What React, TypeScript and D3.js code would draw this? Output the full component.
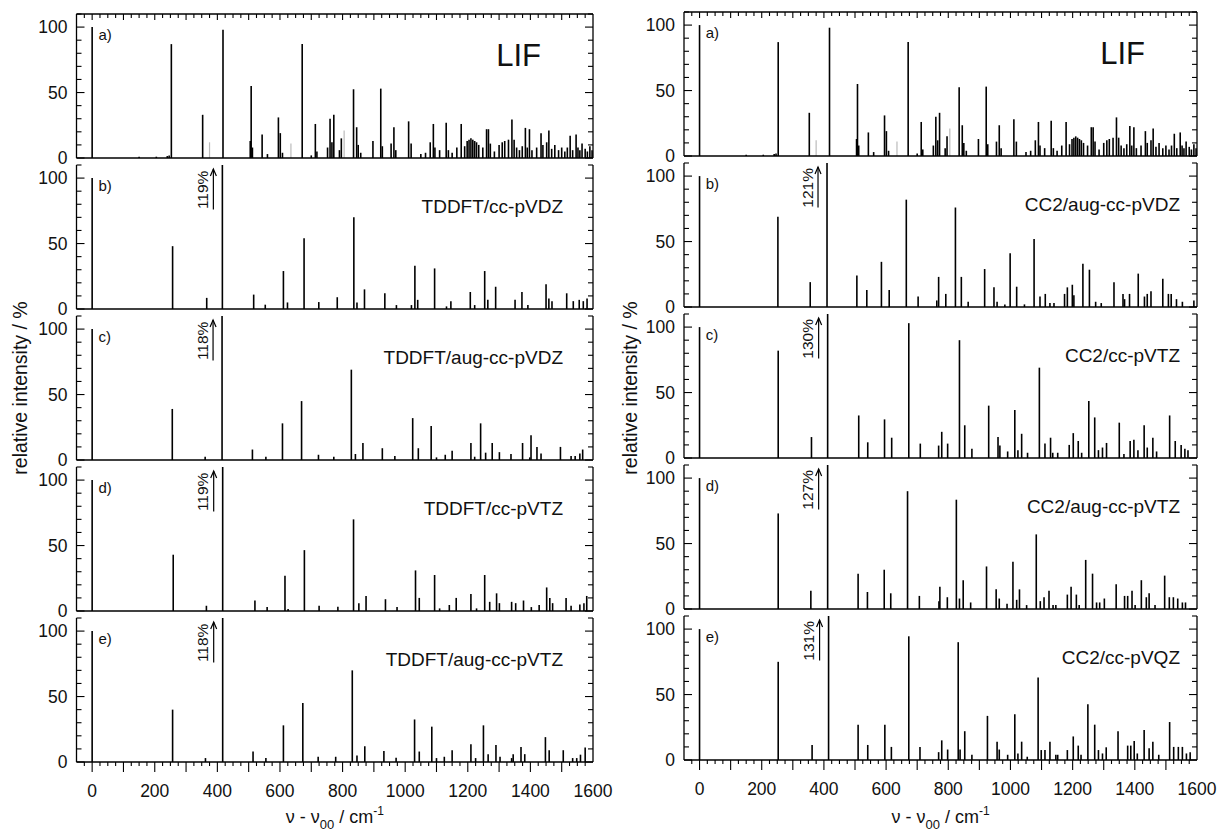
import React from 'react';
import * as d3 from 'd3';

// stick spectra: [wavenumber offset / cm-1, relative intensity / %]
const lif: [number, number][] = [
  [0, 100], [150, 1], [205, 1], [240, 1.5], [246, 2], [253, 87], [353, 33], [418, 98],
  [505, 13], [508, 55], [512, 8], [543, 18], [560, 3], [595, 31], [601, 19], [608, 4],
  [671, 87], [700, 2], [713, 26], [718, 5], [752, 8], [760, 30], [766, 12], [772, 33],
  [790, 6], [796, 15], [835, 52.5], [845, 23.5], [850, 10], [858, 4], [897, 13], [922, 53],
  [927, 9], [955, 11], [964, 23.5], [970, 6], [1011, 28], [1019, 11], [1050, 3], [1065, 4],
  [1080, 12], [1090, 26], [1095, 8], [1110, 6], [1131, 27], [1138, 6], [1150, 4], [1165, 8],
  [1179, 26], [1190, 9], [1198, 13], [1204, 14], [1210, 15], [1216, 14], [1222, 13], [1228, 12],
  [1235, 10], [1248, 8], [1260, 22], [1266, 22], [1272, 11], [1285, 5], [1300, 10], [1310, 12],
  [1318, 13], [1330, 14], [1341, 29.5], [1348, 14], [1356, 8], [1365, 6], [1374, 9], [1384, 23],
  [1390, 8], [1397, 22], [1405, 6], [1420, 8], [1434, 19], [1440, 10], [1452, 12], [1459, 21],
  [1468, 7], [1478, 10], [1490, 6], [1500, 8], [1510, 5], [1518, 8], [1527, 17], [1535, 6],
  [1546, 18], [1552, 8], [1558, 6], [1565, 11], [1575, 7], [1582, 5], [1590, 9], [1597, 6],
];
const lifGrey: [number, number][] = [[375, 12], [635, 11], [805, 21]];

const tddftVDZ: [number, number][] = [
  [0, 100], [257, 48], [366, 8.5], [416, 119], [516, 11], [553, 3.3], [611, 29], [624, 5],
  [677, 54], [724, 5.3], [783, 9], [836, 70], [846, 5], [870, 15], [935, 12], [972, 3],
  [1020, 3], [1031, 33], [1040, 7], [1094, 31], [1132, 2], [1146, 6], [1208, 13], [1222, 3],
  [1254, 29], [1264, 7], [1289, 17], [1351, 7], [1373, 13], [1392, 3], [1450, 19], [1459, 8],
  [1469, 6], [1516, 12], [1537, 6], [1556, 7], [1569, 6], [1581, 8],
];
const tddftAugVDZ: [number, number][] = [
  [0, 100], [256, 39], [361, 2.5], [415, 118], [512, 8], [555, 2.5], [608, 28], [669, 45],
  [723, 4], [772, 2.5], [828, 69], [841, 4.6], [865, 13], [927, 9], [967, 3], [1024, 32],
  [1042, 9], [1083, 26], [1100, 2], [1128, 4], [1150, 7], [1210, 13], [1222, 2.5], [1241, 28],
  [1257, 5.6], [1278, 13], [1301, 6], [1338, 4.6], [1375, 13], [1398, 2], [1402, 19], [1421, 10],
  [1434, 5], [1496, 10], [1530, 3], [1543, 3], [1558, 5], [1567, 8],
];
const tddftVTZ: [number, number][] = [
  [0, 100], [259, 43], [365, 4], [417, 119], [520, 8], [559, 3], [616, 27], [626, 1.5],
  [678, 46.5], [725, 4], [785, 3.3], [835, 70], [852, 6], [875, 11.5], [937, 9], [974, 3],
  [1033, 31], [1045, 10], [1094, 27.5], [1110, 2], [1141, 4.6], [1163, 10], [1210, 13], [1228, 2],
  [1254, 27.5], [1270, 7], [1292, 13.5], [1301, 6], [1340, 7], [1353, 6], [1378, 8], [1403, 3],
  [1428, 4.6], [1452, 18], [1462, 10], [1471, 6], [1514, 10], [1530, 4], [1558, 5], [1571, 6],
  [1580, 11.5],
];
const tddftAugVTZ: [number, number][] = [
  [0, 100], [257, 40], [362, 3], [417, 118], [514, 8], [555, 3], [611, 28], [673, 45],
  [722, 4], [778, 4], [831, 70], [846, 5], [871, 12], [932, 8.4], [971, 3.3], [1030, 32.5],
  [1045, 8], [1085, 27], [1100, 3], [1125, 4], [1150, 9], [1210, 13.5], [1225, 3], [1250, 28],
  [1265, 6], [1290, 13], [1303, 4], [1340, 3], [1345, 6], [1370, 11.5], [1382, 6], [1448, 19],
  [1460, 9], [1505, 9], [1535, 3], [1548, 3], [1560, 5.6], [1575, 11],
];

const cc2AugVDZ: [number, number][] = [
  [0, 100], [252, 69], [356, 19], [410, 121], [506, 24], [538, 13], [585, 34.5], [610, 13],
  [665, 82], [703, 8], [763, 5], [769, 23], [792, 10], [823, 76], [842, 23], [864, 4],
  [917, 29], [947, 15], [957, 4], [982, 2], [999, 41], [1020, 15.5], [1045, 2], [1076, 52],
  [1095, 8], [1112, 10], [1127, 3], [1140, 3], [1174, 10], [1183, 15], [1199, 17], [1204, 9],
  [1233, 33], [1254, 28.5], [1274, 4], [1292, 3], [1333, 19], [1362, 10], [1367, 6], [1383, 10],
  [1411, 25.5], [1431, 8], [1440, 10], [1452, 12], [1490, 21.5], [1508, 10], [1517, 10], [1534, 6],
  [1553, 4], [1590, 5],
];
const cc2VTZ: [number, number][] = [
  [0, 100], [253, 82], [360, 16], [412, 130], [512, 32.5], [541, 12], [595, 29.5], [618, 15.5],
  [673, 103], [710, 11], [769, 9.5], [779, 20], [798, 11], [836, 90], [853, 25], [876, 7],
  [930, 40], [960, 16], [966, 9.5], [991, 5], [1014, 36.7], [1024, 6], [1036, 18.5], [1055, 4],
  [1093, 69], [1111, 11], [1129, 15.5], [1136, 4], [1152, 4], [1189, 10], [1202, 19], [1218, 13],
  [1229, 4], [1252, 43.5], [1271, 31], [1283, 6], [1296, 8], [1309, 11.5], [1350, 27], [1365, 3],
  [1385, 13], [1397, 14], [1410, 6], [1430, 25], [1440, 8], [1458, 15.5], [1470, 5], [1512, 32.5],
  [1530, 13], [1549, 10], [1561, 7], [1571, 6],
];
const cc2AugVTZ: [number, number][] = [
  [0, 100], [253, 73], [358, 14], [412, 127], [510, 27], [540, 13], [594, 30], [615, 12],
  [669, 90], [707, 10], [770, 6], [773, 17], [797, 9], [826, 83.5], [836, 8], [848, 22],
  [872, 5], [923, 32.5], [954, 15], [964, 8], [989, 4], [1008, 36], [1020, 7], [1029, 15],
  [1052, 3], [1083, 57], [1096, 6], [1108, 9], [1124, 14], [1137, 3], [1146, 3], [1183, 11],
  [1195, 17], [1212, 11], [1221, 3], [1242, 37.5], [1264, 27], [1277, 5], [1287, 5], [1302, 8],
  [1340, 19], [1367, 10], [1377, 10], [1391, 14], [1401, 3], [1421, 22], [1437, 9], [1446, 12],
  [1465, 3], [1496, 25.5], [1511, 9], [1524, 9], [1538, 8], [1553, 5], [1563, 5],
];
const cc2VQZ: [number, number][] = [
  [0, 100], [253, 75], [362, 11.5], [415, 131], [510, 27], [541, 11.5], [596, 27], [617, 10],
  [673, 94.5], [709, 10], [769, 6], [779, 15], [798, 8], [832, 90], [838, 8], [853, 22],
  [876, 4], [926, 33.7], [957, 14], [964, 8], [991, 4], [1014, 35], [1024, 5], [1036, 14],
  [1054, 2.5], [1089, 63], [1099, 7.6], [1111, 7.6], [1127, 14], [1146, 4], [1152, 4], [1183, 7.6],
  [1202, 18], [1218, 11], [1227, 4], [1249, 42.5], [1271, 27], [1283, 7.6], [1296, 5], [1308, 9.7],
  [1346, 22], [1377, 11], [1387, 11], [1398, 14.5], [1408, 5], [1430, 23], [1446, 9], [1458, 14],
  [1477, 4], [1512, 29], [1525, 10], [1540, 10], [1553, 10], [1566, 5], [1578, 6],
];

const letters = ['a)', 'b)', 'c)', 'd)', 'e)'];
const leftLabels = ['LIF', 'TDDFT/cc-pVDZ', 'TDDFT/aug-cc-pVDZ', 'TDDFT/cc-pVTZ', 'TDDFT/aug-cc-pVTZ'];
const rightLabels = ['LIF', 'CC2/aug-cc-pVDZ', 'CC2/cc-pVTZ', 'CC2/aug-cc-pVTZ', 'CC2/cc-pVQZ'];
const leftOver = ['', '119%', '118%', '119%', '118%'];
const rightOver = ['', '121%', '130%', '127%', '131%'];
const leftSpectra = [lif, tddftVDZ, tddftAugVDZ, tddftVTZ, tddftAugVTZ];
const rightSpectra = [lif, cc2AugVDZ, cc2VTZ, cc2AugVTZ, cc2VQZ];
const xTickLabels = [0, 200, 400, 600, 800, 1000, 1200, 1400, 1600];
const yTickLabels = [0, 50, 100];

const FONT = '"Liberation Sans", Arial, Helvetica, sans-serif';
const PANEL_H = 144;
const PANEL_STEP = 151;

type Col = {
  x0: number; x1: number; zero0: number; labelEnd: number; titleX: number;
  labels: string[]; over: string[]; spectra: [number, number][][];
};

const cols: Col[] = [
  { x0: 76.5, x1: 593, zero0: 158, labelEnd: 30, titleX: 20, labels: leftLabels, over: leftOver, spectra: leftSpectra },
  { x0: 684, x1: 1197, zero0: 156, labelEnd: 17, titleX: 630, labels: rightLabels, over: rightOver, spectra: rightSpectra },
];

function Panel({ col, i }: { col: Col; i: number }) {
  const zero = col.zero0 + PANEL_STEP * i;
  const x = d3.scaleLinear().domain([-50, 1600]).range([col.x0, col.x1]);
  const y = d3.scaleLinear().domain([0, 110]).range([zero, zero - PANEL_H]).clamp(true);
  const top = y(110);
  const sticks = col.spectra[i];
  const xTicks = d3.range(-25, 1600, 25);
  const yTicks = d3.range(0, 111, 10);
  const big = sticks.find(d => d[1] > 110);
  const label = col.labels[i];
  const isLif = label === 'LIF';

  return (
    <g>
      {isLif && lifGrey.map((d, k) => (
        <line key={'g' + k} x1={x(d[0])} x2={x(d[0])} y1={y(0)} y2={y(d[1])} stroke="#bbb" strokeWidth={1.2} />
      ))}
      {sticks.map((d, k) => (
        <line key={k} x1={x(d[0])} x2={x(d[0])} y1={y(0)} y2={y(d[1])} stroke="#000" strokeWidth={1.6} />
      ))}
      {/* frame */}
      <line x1={col.x0} x2={col.x0} y1={zero} y2={top} stroke="#000" strokeWidth={1.3} />
      <line x1={col.x1} x2={col.x1} y1={zero} y2={top} stroke="#000" strokeWidth={1.3} />
      <line x1={col.x0} x2={col.x1} y1={zero} y2={zero} stroke="#000" strokeWidth={1.4} />
      {i === 0 && <line x1={col.x0} x2={col.x1} y1={top} y2={top} stroke="#000" strokeWidth={1.3} />}
      {yTicks.map(t => {
        const len = t % 50 === 0 ? 8 : 5;
        return (
          <g key={'yt' + t}>
            <line x1={col.x0} x2={col.x0 + len} y1={y(t)} y2={y(t)} stroke="#000" strokeWidth={1.1} />
            <line x1={col.x1} x2={col.x1 - len} y1={y(t)} y2={y(t)} stroke="#000" strokeWidth={1.1} />
          </g>
        );
      })}
      {yTickLabels.map(t => (
        <text key={'yl' + t} x={col.x0 - 9} y={y(t)} dy="0.36em" textAnchor="end" fontSize={17.5} fontFamily={FONT} fill="#111">{t}</text>
      ))}
      {i === 0 && xTicks.map(t => (
        <line key={'tt' + t} x1={x(t)} x2={x(t)} y1={top} y2={top + (t % 100 === 0 ? 6 : 4)} stroke="#000" strokeWidth={1.1} />
      ))}
      {i === 4 && xTicks.map(t => (
        <line key={'bt' + t} x1={x(t)} x2={x(t)} y1={zero} y2={zero + (t % 100 === 0 ? 10 : 4)} stroke="#000" strokeWidth={1.1} />
      ))}
      {i === 4 && xTickLabels.map(t => (
        <text key={'xl' + t} x={x(t)} y={zero + 35} textAnchor="middle" fontSize={17.5} fontFamily={FONT} fill="#111">{t}</text>
      ))}
      <text x={x(20)} y={top + 26} fontSize={15} fontFamily={FONT} fill="#111">{letters[i]}</text>
      <text x={col.x1 - (isLif ? 52 : col.labelEnd)} y={isLif ? y(70.5) : y(73)} textAnchor="end"
        fontSize={isLif ? 31 : 19} fontFamily={FONT} fill="#111">{label}</text>
      {big && col.over[i] && (() => {
        const xa = x(big[0]) - 9;
        const ya = y(107);
        return (
          <g>
            <line x1={xa} x2={xa} y1={y(76)} y2={ya} stroke="#000" strokeWidth={1.2} />
            <path d={`M${xa - 3},${ya + 7}L${xa},${ya}L${xa + 3},${ya + 7}`} fill="none" stroke="#000" strokeWidth={1.2} />
            <text transform={`translate(${x(big[0]) - 20},${y(91)}) rotate(-90)`} dy="0.36em" textAnchor="middle"
              fontSize={15.5} fontFamily={FONT} fill="#111">{col.over[i]}</text>
          </g>
        );
      })()}
    </g>
  );
}

export default function App() {
  return (
    <svg width={1223} height={833} style={{ position: 'absolute', left: 0, top: 0, background: '#fff' }}>
      {cols.map((col, c) => (
        <g key={c}>
          {d3.range(5).map(i => <Panel key={i} col={col} i={i} />)}
          <text transform={`translate(${col.titleX},388) rotate(-90)`} dy="0.36em" textAnchor="middle"
            fontSize={19.5} fontFamily={FONT} fill="#111">relative intensity / %</text>
          <text x={(col.x0 + col.x1) / 2} y={823} textAnchor="middle" fontSize={18} fontFamily={FONT} fill="#111">
            ν - ν<tspan dy={6} fontSize={13}>00</tspan><tspan dy={-6}> / cm</tspan><tspan dy={-8} fontSize={12}>-1</tspan>
          </text>
        </g>
      ))}
    </svg>
  );
}
